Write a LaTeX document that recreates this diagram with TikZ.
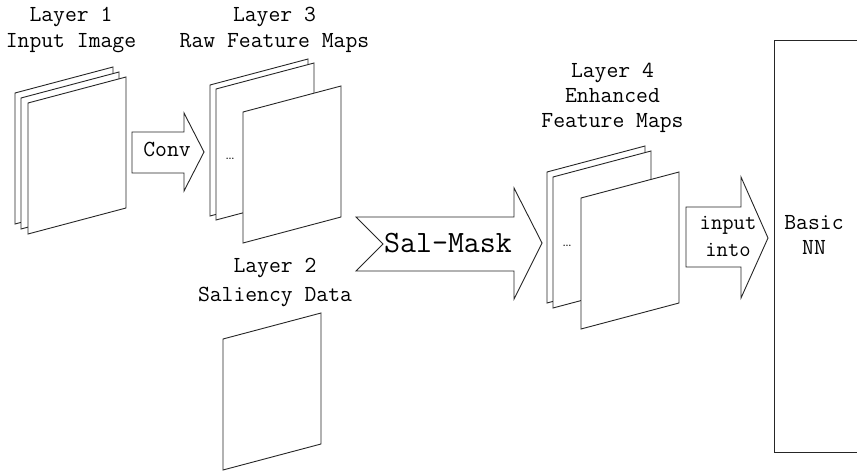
\documentclass[tikz,border=0pt]{standalone}
\usepackage{fontspec}
\begin{document}
\tikzset{
  sheet/.style={draw=black!85, fill=white, line width=0.9pt, line join=miter},
  arr/.style={draw=black!85, fill=white, line width=0.9pt, line join=miter},
  lbl/.style={font=\fontsize{23}{26}\selectfont\ttfamily, align=center, inner sep=0pt},
  dotsl/.style={font=\fontsize{17}{17}\selectfont, inner sep=0pt},
}
\newcommand\drawsheet[2]{\draw[sheet] (#1,#2) -- ++(98,-26) -- ++(0,131) -- ++(-98,26) -- cycle;}
\begin{tikzpicture}[x=1pt,y=-1pt]
\useasboundingbox (0,0) rectangle (857,471);
% Layer 1 stack
\drawsheet{15}{93}
\drawsheet{21}{98}
\drawsheet{28}{103}
% Layer 3 stack
\drawsheet{210}{85}
\drawsheet{216}{89}
\node[dotsl] (d3) at (230,159) {\ldots};
\drawsheet{243}{112}
% Layer 4 stack
\drawsheet{547}{172}
\drawsheet{553}{177}
\node[dotsl] (d4) at (567,246) {\ldots};
\drawsheet{581}{198}
% Layer 2 sheet
\drawsheet{223}{339}
% labels
\node[lbl, anchor=north] (l1) at (71,7) {Layer 1\\Input Image};
\node[lbl, anchor=north] (l3) at (274.5,7) {Layer 3\\Raw Feature Maps};
\node[lbl, anchor=north, font=\fontsize{23}{25}\selectfont\ttfamily] (l4) at (612.5,63) {Layer 4\\Enhanced\\Feature Maps};
\node[lbl, anchor=north, font=\fontsize{23}{29}\selectfont\ttfamily] (l2) at (275,258) {Layer 2\\Saliency Data};
% Conv arrow
\draw[arr] (132,132) -- (184,132) -- (184,113) -- (204,152) -- (184,191) -- (184,173) -- (132,173) -- cycle;
\node[lbl] (conv) at (167,149) {Conv};
% Sal-Mask arrow
\draw[arr] (356,217) -- (514,217) -- (514,188) -- (542,243) -- (514,299) -- (514,271) -- (356,271) -- (383,244) -- cycle;
\node[lbl, font=\fontsize{31}{31}\selectfont\ttfamily] (sal) at (448,243) {Sal-Mask};
% input into arrow
\draw[arr] (686,207) -- (741,207) -- (741,177) -- (768,238) -- (741,298) -- (741,267) -- (686,267) -- cycle;
\node[lbl, anchor=north, font=\fontsize{22}{27}\selectfont\ttfamily] (inp) at (728,216) {input\\into};
% Basic NN box
\draw[arr, fill=none] (857,40) -- (774,40) -- (774,452) -- (857,452);
\node[lbl, anchor=north, font=\fontsize{23}{25}\selectfont\ttfamily] (nn) at (814,215) {Basic\\NN};
\end{tikzpicture}
\end{document}
